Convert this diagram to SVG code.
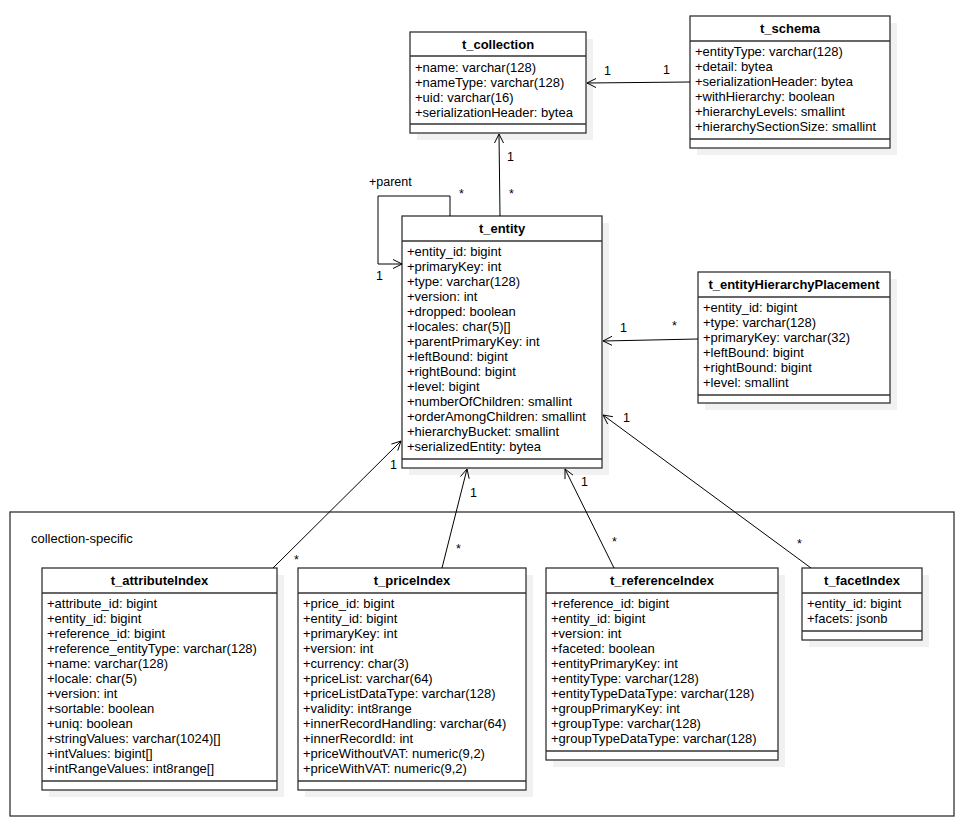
<svg xmlns="http://www.w3.org/2000/svg" width="965" height="826" viewBox="0 0 965 826">
<style>
.box{fill:#fff;stroke:#333;stroke-width:1.3}
.sh{fill:#f1f1f1;stroke:none}
.sep{stroke:#333;stroke-width:1.3;fill:none}
.t{font-family:"Liberation Sans",Arial,sans-serif;font-size:13px;font-weight:bold;text-anchor:middle;fill:#000}
.a{font-family:"Liberation Sans",Arial,sans-serif;font-size:13px;fill:#000}
.l{font-family:"Liberation Sans",Arial,sans-serif;font-size:12.5px;fill:#000}
.c{stroke:#000;stroke-width:1;fill:none}
.ah{stroke:#000;stroke-width:1;fill:none}
</style>
<rect width="965" height="826" fill="#fff"/>

<g id="package">
<rect x="10" y="512" width="944" height="304" fill="none" stroke="#333" stroke-width="1.3"/>
<text class="a" x="31" y="543">collection-specific</text>
</g>

<g id="t_collection">
<rect class="sh" x="417" y="39" width="176" height="101"/>
<rect class="box" x="410" y="32" width="176" height="101"/>
<line class="sep" x1="410" y1="56" x2="586" y2="56"/>
<line class="sep" x1="410" y1="124" x2="586" y2="124"/>
<text class="t" x="498" y="49">t_collection</text>
<text class="a" x="415" y="72">+name: varchar(128)</text>
<text class="a" x="415" y="87">+nameType: varchar(128)</text>
<text class="a" x="415" y="102">+uid: varchar(16)</text>
<text class="a" x="415" y="117">+serializationHeader: bytea</text>
</g>

<g id="t_schema">
<rect class="sh" x="697" y="23" width="200" height="132"/>
<rect class="box" x="690" y="16" width="200" height="132"/>
<line class="sep" x1="690" y1="41" x2="890" y2="41"/>
<line class="sep" x1="690" y1="139" x2="890" y2="139"/>
<text class="t" x="790" y="33">t_schema</text>
<text class="a" x="695" y="56">+entityType: varchar(128)</text>
<text class="a" x="695" y="71">+detail: bytea</text>
<text class="a" x="695" y="86">+serializationHeader: bytea</text>
<text class="a" x="695" y="101">+withHierarchy: boolean</text>
<text class="a" x="695" y="116">+hierarchyLevels: smallint</text>
<text class="a" x="695" y="131">+hierarchySectionSize: smallint</text>
</g>

<g id="t_entity">
<rect class="sh" x="409" y="223" width="200" height="252"/>
<rect class="box" x="402" y="216" width="200" height="252"/>
<line class="sep" x1="402" y1="241" x2="602" y2="241"/>
<line class="sep" x1="402" y1="459" x2="602" y2="459"/>
<text class="t" x="502" y="233">t_entity</text>
<text class="a" x="407" y="256">+entity_id: bigint</text>
<text class="a" x="407" y="271">+primaryKey: int</text>
<text class="a" x="407" y="286">+type: varchar(128)</text>
<text class="a" x="407" y="301">+version: int</text>
<text class="a" x="407" y="316">+dropped: boolean</text>
<text class="a" x="407" y="331">+locales: char(5)[]</text>
<text class="a" x="407" y="346">+parentPrimaryKey: int</text>
<text class="a" x="407" y="361">+leftBound: bigint</text>
<text class="a" x="407" y="376">+rightBound: bigint</text>
<text class="a" x="407" y="391">+level: bigint</text>
<text class="a" x="407" y="406">+numberOfChildren: smallint</text>
<text class="a" x="407" y="421">+orderAmongChildren: smallint</text>
<text class="a" x="407" y="436">+hierarchyBucket: smallint</text>
<text class="a" x="407" y="451">+serializedEntity: bytea</text>
</g>

<g id="t_entityHierarchyPlacement">
<rect class="sh" x="705" y="279" width="192" height="131"/>
<rect class="box" x="698" y="272" width="192" height="131"/>
<line class="sep" x1="698" y1="297" x2="890" y2="297"/>
<line class="sep" x1="698" y1="395" x2="890" y2="395"/>
<text class="t" x="794" y="289">t_entityHierarchyPlacement</text>
<text class="a" x="703" y="312">+entity_id: bigint</text>
<text class="a" x="703" y="327">+type: varchar(128)</text>
<text class="a" x="703" y="342">+primaryKey: varchar(32)</text>
<text class="a" x="703" y="357">+leftBound: bigint</text>
<text class="a" x="703" y="372">+rightBound: bigint</text>
<text class="a" x="703" y="387">+level: smallint</text>
</g>

<g id="t_attributeIndex">
<rect class="sh" x="49" y="575" width="235" height="222"/>
<rect class="box" x="42" y="568" width="235" height="222"/>
<line class="sep" x1="42" y1="593" x2="277" y2="593"/>
<line class="sep" x1="42" y1="781" x2="277" y2="781"/>
<text class="t" x="159.5" y="585">t_attributeIndex</text>
<text class="a" x="47" y="608">+attribute_id: bigint</text>
<text class="a" x="47" y="623">+entity_id: bigint</text>
<text class="a" x="47" y="638">+reference_id: bigint</text>
<text class="a" x="47" y="653">+reference_entityType: varchar(128)</text>
<text class="a" x="47" y="668">+name: varchar(128)</text>
<text class="a" x="47" y="683">+locale: char(5)</text>
<text class="a" x="47" y="698">+version: int</text>
<text class="a" x="47" y="713">+sortable: boolean</text>
<text class="a" x="47" y="728">+uniq: boolean</text>
<text class="a" x="47" y="743">+stringValues: varchar(1024)[]</text>
<text class="a" x="47" y="758">+intValues: bigint[]</text>
<text class="a" x="47" y="773">+intRangeValues: int8range[]</text>
</g>

<g id="t_priceIndex">
<rect class="sh" x="305" y="575" width="228" height="222"/>
<rect class="box" x="298" y="568" width="228" height="222"/>
<line class="sep" x1="298" y1="593" x2="526" y2="593"/>
<line class="sep" x1="298" y1="781" x2="526" y2="781"/>
<text class="t" x="412" y="585">t_priceIndex</text>
<text class="a" x="303" y="608">+price_id: bigint</text>
<text class="a" x="303" y="623">+entity_id: bigint</text>
<text class="a" x="303" y="638">+primaryKey: int</text>
<text class="a" x="303" y="653">+version: int</text>
<text class="a" x="303" y="668">+currency: char(3)</text>
<text class="a" x="303" y="683">+priceList: varchar(64)</text>
<text class="a" x="303" y="698">+priceListDataType: varchar(128)</text>
<text class="a" x="303" y="713">+validity: int8range</text>
<text class="a" x="303" y="728">+innerRecordHandling: varchar(64)</text>
<text class="a" x="303" y="743">+innerRecordId: int</text>
<text class="a" x="303" y="758">+priceWithoutVAT: numeric(9,2)</text>
<text class="a" x="303" y="773">+priceWithVAT: numeric(9,2)</text>
</g>

<g id="t_referenceIndex">
<rect class="sh" x="553" y="575" width="232" height="192"/>
<rect class="box" x="546" y="568" width="232" height="192"/>
<line class="sep" x1="546" y1="593" x2="778" y2="593"/>
<line class="sep" x1="546" y1="751" x2="778" y2="751"/>
<text class="t" x="662" y="585">t_referenceIndex</text>
<text class="a" x="551" y="608">+reference_id: bigint</text>
<text class="a" x="551" y="623">+entity_id: bigint</text>
<text class="a" x="551" y="638">+version: int</text>
<text class="a" x="551" y="653">+faceted: boolean</text>
<text class="a" x="551" y="668">+entityPrimaryKey: int</text>
<text class="a" x="551" y="683">+entityType: varchar(128)</text>
<text class="a" x="551" y="698">+entityTypeDataType: varchar(128)</text>
<text class="a" x="551" y="713">+groupPrimaryKey: int</text>
<text class="a" x="551" y="728">+groupType: varchar(128)</text>
<text class="a" x="551" y="743">+groupTypeDataType: varchar(128)</text>
</g>

<g id="t_facetIndex">
<rect class="sh" x="809" y="575" width="120" height="72"/>
<rect class="box" x="802" y="568" width="120" height="72"/>
<line class="sep" x1="802" y1="593" x2="922" y2="593"/>
<line class="sep" x1="802" y1="631" x2="922" y2="631"/>
<text class="t" x="862" y="585">t_facetIndex</text>
<text class="a" x="807" y="608">+entity_id: bigint</text>
<text class="a" x="807" y="623">+facets: jsonb</text>
</g>

<g id="connectors">
<line class="c" x1="690" y1="82" x2="587" y2="83"/>
<polyline class="ah" points="596,78.5 587,83 596,87.5"/>
<line class="c" x1="500" y1="216" x2="499" y2="134"/>
<polyline class="ah" points="494.5,143 499,134 503.5,143"/>
<polyline class="c" points="450,216 450,196 378,196 378,264 402,264"/>
<polyline class="ah" points="393,259.5 402,264 393,268.5"/>
<line class="c" x1="698" y1="339" x2="603" y2="341"/>
<polyline class="ah" points="612,336.3 603,341 612,345.3"/>
<line class="c" x1="273" y1="568" x2="401" y2="441"/>
<polyline class="ah" points="397.8,450.5 401,441 391.4,444.1"/>
<line class="c" x1="442" y1="568" x2="467" y2="469"/>
<polyline class="ah" points="469.2,478.8 467,469 460.4,476.6"/>
<line class="c" x1="614" y1="568" x2="565" y2="469"/>
<polyline class="ah" points="573,475.1 565,469 565,479.1"/>
<line class="c" x1="811" y1="568" x2="603" y2="415"/>
<polyline class="ah" points="612.9,416.7 603,415 607.6,424"/>
<text class="l" x="604" y="75">1</text>
<text class="l" x="663" y="74">1</text>
<text class="l" x="507" y="161">1</text>
<text class="l" x="509" y="198">*</text>
<text class="l" x="369" y="186">+parent</text>
<text class="l" x="459" y="198">*</text>
<text class="l" x="376" y="280">1</text>
<text class="l" x="620" y="332">1</text>
<text class="l" x="672" y="330">*</text>
<text class="l" x="390" y="469">1</text>
<text class="l" x="294" y="564">*</text>
<text class="l" x="470" y="497">1</text>
<text class="l" x="456" y="553">*</text>
<text class="l" x="581" y="486">1</text>
<text class="l" x="612" y="546">*</text>
<text class="l" x="623" y="422">1</text>
<text class="l" x="797" y="548">*</text>
</g>
</svg>
